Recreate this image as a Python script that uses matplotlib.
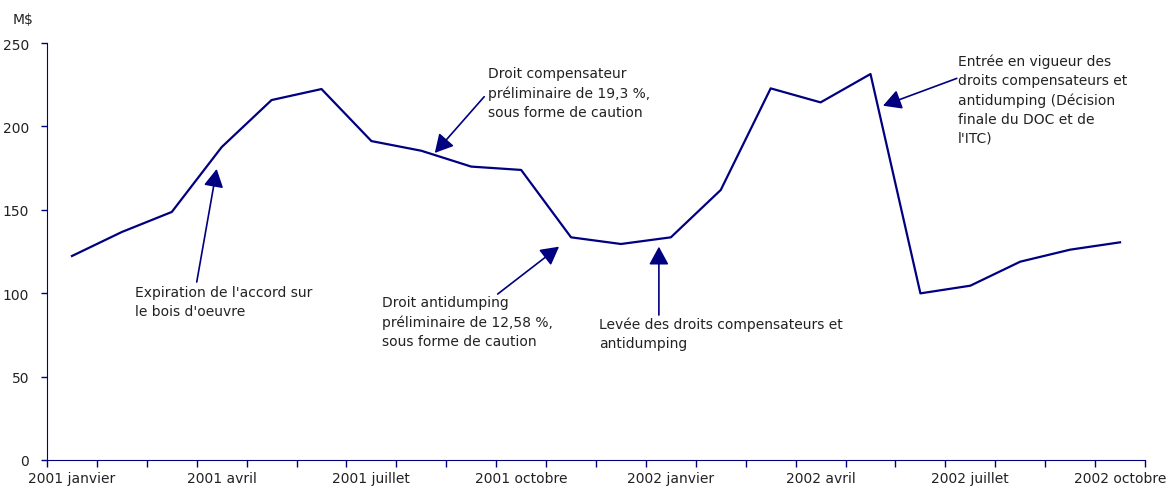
import matplotlib.pyplot as plt
import numpy as np

# Monthly values, 2001 janvier -> 2002 octobre (M$)
months = ['2001 janvier', '2001 février', '2001 mars', '2001 avril', '2001 mai', '2001 juin',
          '2001 juillet', '2001 août', '2001 septembre', '2001 octobre', '2001 novembre',
          '2001 décembre', '2002 janvier', '2002 février', '2002 mars', '2002 avril',
          '2002 mai', '2002 juin', '2002 juillet', '2002 août', '2002 septembre',
          '2002 octobre']
values = [122.3, 136.7, 148.7, 187.6, 215.8, 222.4, 191.2, 185.4, 175.9, 173.9, 133.5,
          129.5, 133.5, 161.9, 222.8, 214.4, 231.4, 99.9, 104.5, 118.9, 126.1, 130.5]
yticks = [0, 50, 100, 150, 200, 250]

navy = '#000080'
plt.rcParams['font.family'] = 'DejaVu Sans'
fs = 10

fig = plt.figure(figsize=(11.68, 4.89), dpi=100)
ax = fig.add_axes([47 / 1168, 1 - 461 / 489, (1145 - 47) / 1168, (461 - 44) / 489])

x = np.arange(len(values))
ax.plot(x, values, color=navy, lw=1.6)

ax.set_xlim(-0.5, len(values) - 0.5)
ax.set_ylim(0, 250)

# x axis: labels every 3 months, tick marks between categories
ax.set_xticks(x[::3])
ax.set_xticklabels([months[i] for i in x[::3]], fontsize=fs, color='#222222')
ax.set_xticks(np.arange(-0.5, len(values)), minor=True)
ax.tick_params(axis='x', which='major', length=0, pad=8)
ax.tick_params(axis='x', which='minor', length=5, color=navy, width=1)

ax.set_yticks(yticks)
ax.set_yticklabels([str(v) for v in yticks], fontsize=fs, color='#222222')
ax.tick_params(axis='y', length=4, color=navy, width=1, pad=9)

ax.spines['top'].set_visible(False)
ax.spines['right'].set_visible(False)
ax.spines['left'].set_color(navy)
ax.spines['bottom'].set_color(navy)

fig.text(13 / 1168, 1 - 20 / 489, 'M$', fontsize=fs, color='#222222', va='center')

# Annotations
arrow = dict(arrowstyle='-|>,head_length=0.55,head_width=0.3', mutation_scale=20,
             color=navy, lw=1.2, shrinkA=0, shrinkB=0)
txt = dict(fontsize=fs, color='#222222', ha='left', va='top', linespacing=1.45)

ax.annotate('', xy=(2.9, 174.5), xytext=(2.5, 106.7), arrowprops=arrow)
ax.text(1.26, 105.0, "Expiration de l'accord sur\nle bois d'oeuvre", **txt)

ax.annotate('', xy=(7.27, 184.1), xytext=(8.26, 217.8), arrowprops=arrow)
ax.text(8.34, 236.0, 'Droit compensateur\npréliminaire de 19,3 %,\nsous forme de caution', **txt)

ax.annotate('', xy=(9.76, 127.9), xytext=(8.53, 99.5), arrowprops=arrow)
ax.text(6.21, 98.7, 'Droit antidumping\npréliminaire de 12,58 %,\nsous forme de caution', **txt)

ax.annotate('', xy=(11.76, 127.9), xytext=(11.76, 86.9), arrowprops=arrow)
ax.text(10.56, 86.0, 'Levée des droits compensateurs et\nantidumping', **txt)

ax.annotate('', xy=(16.25, 212.4), xytext=(17.73, 228.8), arrowprops=arrow)
ax.text(17.75, 243.7, "Entrée en vigueur des\ndroits compensateurs et\nantidumping (Décision\n"
        "finale du DOC et de\nl'ITC)", **txt)

plt.savefig('out.png', dpi=100)
